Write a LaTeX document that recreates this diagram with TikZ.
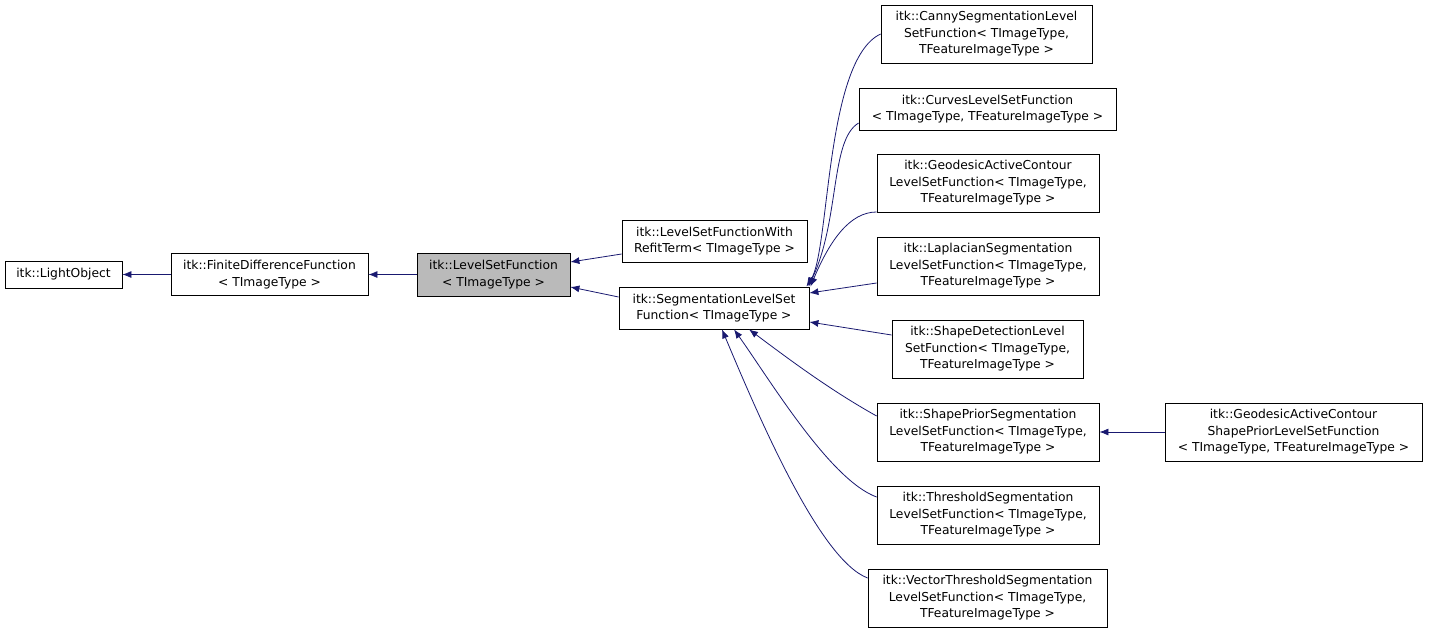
\documentclass[tikz,border=0pt]{standalone}
\usepackage{fontspec}
\setmainfont{DejaVu Sans}
\usetikzlibrary{arrows.meta}
\definecolor{edgeblue}{HTML}{191970}
\tikzset{>={Latex[length=9pt,width=7pt]}}
\tikzset{cls/.style={draw=black, fill=white, align=center, inner sep=0pt,
    font=\fontsize{12.3}{16.5}\selectfont, line width=0.8pt},
  inh/.style={<-, draw=edgeblue, line width=0.8pt}}

\begin{document}
\begin{tikzpicture}[x=1pt,y=-1pt]
    \useasboundingbox (0,0) rectangle (1429,632);

    % left part of the graph
    \node[cls, minimum width=117, minimum height=27] (lobj) at (63.5,274.5) {itk::LightObject};
    \node[cls, minimum width=197, minimum height=42] (fdf) at (269.5,274.5) {itk::FiniteDifferenceFunction\\< TImageType >};
    \node[cls, fill=black!27, minimum width=153, minimum height=43] (lsf) at (493.5,274.5) {itk::LevelSetFunction\\< TImageType >};
    \node[cls, minimum width=185, minimum height=42] (refit) at (714.5,241) {itk::LevelSetFunctionWith\\RefitTerm< TImageType >};
    \node[cls, minimum width=190, minimum height=42] (seg) at (714,308) {itk::SegmentationLevelSet\\Function< TImageType >};

    % right column
    \node[cls, minimum width=211, minimum height=58] (canny) at (986.5,34) {itk::CannySegmentationLevel\\SetFunction< TImageType,\\TFeatureImageType >};
    \node[cls, minimum width=257, minimum height=42] (curves) at (987.5,109) {itk::CurvesLevelSetFunction\\< TImageType, TFeatureImageType >};
    \node[cls, minimum width=222, minimum height=58] (gac) at (988,183) {itk::GeodesicActiveContour\\LevelSetFunction< TImageType,\\TFeatureImageType >};
    \node[cls, minimum width=222, minimum height=58] (lap) at (988,266) {itk::LaplacianSegmentation\\LevelSetFunction< TImageType,\\TFeatureImageType >};
    \node[cls, minimum width=191, minimum height=58] (shape) at (987.5,349) {itk::ShapeDetectionLevel\\SetFunction< TImageType,\\TFeatureImageType >};
    \node[cls, minimum width=222, minimum height=58] (prior) at (988,432) {itk::ShapePriorSegmentation\\LevelSetFunction< TImageType,\\TFeatureImageType >};
    \node[cls, minimum width=222, minimum height=58] (thr) at (988,515) {itk::ThresholdSegmentation\\LevelSetFunction< TImageType,\\TFeatureImageType >};
    \node[cls, minimum width=239, minimum height=58] (vthr) at (987.5,598) {itk::VectorThresholdSegmentation\\LevelSetFunction< TImageType,\\TFeatureImageType >};
    \node[cls, minimum width=257, minimum height=58] (gacprior) at (1293.5,432) {itk::GeodesicActiveContour\\ShapePriorLevelSetFunction\\< TImageType, TFeatureImageType >};

    % inheritance edges
    \draw[inh] (lobj) -- (fdf);
    \draw[inh] (fdf) -- (lsf);
    \draw[inh] (lsf.east |- 0,262) -- (refit.west |- 0,254);
    \draw[inh] (lsf.east |- 0,287) -- (seg.west |- 0,297);
    \draw[inh] (seg.north east) ++(-3,0) coordinate (s1) (s1) .. controls (830,250) and (825,60) .. (canny.west);
    \draw[inh] (s1) ++(2,0) coordinate (s2) (s2) .. controls (840,220) and (830,140) .. (curves.west |- 0,123);
    \draw[inh] (s1) ++(4,0) coordinate (s3) (s3) .. controls (830,240) and (850,212) .. (gac.west |- 0,212);
    \draw[inh] (seg.east |- 0,293) -- (lap.west |- 0,283);
    \draw[inh] (seg.east |- 0,322) -- (shape.west |- 0,335);
    \draw[inh] (seg.south) ++(35,0) coordinate (s4) (s4) .. controls (790,360) and (830,390) .. (prior.west |- 0,416);
    \draw[inh] (seg.south) ++(20,0) coordinate (s5) (s5) .. controls (770,380) and (830,480) .. (thr.west |- 0,497);
    \draw[inh] (seg.south) ++(8,0) coordinate (s6) (s6) .. controls (760,420) and (820,560) .. (vthr.west |- 0,578);
    \draw[inh] (prior) -- (gacprior);
\end{tikzpicture}
\end{document}
